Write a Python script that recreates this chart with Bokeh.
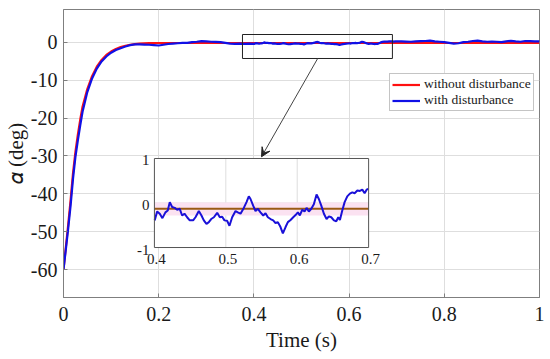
import numpy as np
from bokeh.plotting import figure
from bokeh.models import Range1d, FixedTicker, Legend, LegendItem, Arrow, VeeHead
from bokeh.embed import file_html
from bokeh.resources import INLINE
from bokeh.core.properties import value

# ---------------- data ----------------
x_ticks = [0, 0.2, 0.4, 0.6, 0.8, 1]
x_tick_labels = ["0", "0.2", "0.4", "0.6", "0.8", "1"]
y_ticks = [-60, -50, -40, -30, -20, -10, 0]
y_tick_labels = ["-60", "-50", "-40", "-30", "-20", "-10", "0"]

inset_x_ticks = [0.4, 0.5, 0.6, 0.7]
inset_x_labels = ["0.4", "0.5", "0.6", "0.7"]
inset_y_ticks = [-1, 0, 1]
inset_y_labels = ["-1", "0", "1"]

# without disturbance
t_red = [0, 0.005, 0.01, 0.015, 0.02, 0.025, 0.03, 0.035, 0.04, 0.05, 0.06, 0.07,
         0.08, 0.09, 0.10, 0.11, 0.12, 0.13, 0.14, 0.15, 0.16, 0.18, 0.20, 0.4, 0.7, 1.0]
alpha_red = [-60, -54, -48, -41.5, -34.5, -29, -24.5, -20.5, -17, -12.3, -8.9, -6.4,
             -4.6, -3.3, -2.4, -1.7, -1.2, -0.85, -0.6, -0.42, -0.3, -0.18, -0.13, -0.13, -0.13, -0.13]

# with disturbance
t_blue = [0, 0.005, 0.01, 0.015, 0.02, 0.025, 0.03, 0.035, 0.04, 0.05, 0.06, 0.07,
          0.08, 0.09, 0.10, 0.11, 0.12, 0.13, 0.14, 0.15,
          0.16, 0.17, 0.18, 0.19, 0.20, 0.21, 0.22, 0.23, 0.24, 0.25, 0.26, 0.27, 0.28,
          0.29, 0.30, 0.31, 0.32, 0.33, 0.34, 0.35, 0.36, 0.37, 0.38, 0.39,
          0.4004, 0.4038, 0.4075, 0.4112, 0.4154, 0.4187, 0.4215, 0.4248, 0.4285, 0.4318,
          0.4355, 0.4388, 0.4421, 0.4458, 0.4495, 0.4542, 0.4575, 0.4622, 0.4659, 0.4692,
          0.4729, 0.4762, 0.4795, 0.4833, 0.4879, 0.4916, 0.4949, 0.4981, 0.5019, 0.5051,
          0.5089, 0.5136, 0.5168, 0.5206, 0.5252, 0.5290, 0.5322, 0.5346, 0.5383, 0.5416,
          0.5449, 0.5486, 0.5524, 0.5556, 0.5589, 0.5626, 0.5664, 0.5696, 0.5729, 0.5766,
          0.5799, 0.5837, 0.5869, 0.5907, 0.5944, 0.5977, 0.6009, 0.6037, 0.6071, 0.6103,
          0.6131, 0.6163, 0.6197, 0.6233, 0.6271, 0.6303, 0.6337, 0.6374, 0.6411, 0.6444,
          0.6477, 0.6514, 0.6547, 0.6575, 0.6598, 0.6631, 0.6664, 0.6701, 0.6738, 0.6772,
          0.6804, 0.6842, 0.6878, 0.6912, 0.6944, 0.6972, 0.6996,
          0.71, 0.72, 0.73, 0.74, 0.75, 0.76, 0.77, 0.78, 0.79, 0.80, 0.81, 0.82, 0.83,
          0.84, 0.85, 0.86, 0.87, 0.88, 0.89, 0.90, 0.91, 0.92, 0.93, 0.94, 0.95, 0.96,
          0.97, 0.98, 0.99, 1.0]
alpha_blue = [-60, -54.6, -49, -43, -36, -30.3, -26, -22, -18.3, -13.1, -9.5, -6.9,
              -5.0, -3.7, -2.7, -2.0, -1.5, -1.05, -0.7, -0.5,
              -0.5, -0.55, -0.6, -0.7, -0.8, -0.6, -0.4, -0.3, -0.2, -0.1, -0.1, 0.1, 0.2,
              0.35, 0.3, 0.2, 0.15, 0.1, -0.1, -0.3, -0.35, -0.3, -0.35, -0.3,
              -0.39, -0.19, -0.24, -0.34, -0.21, -0.17, 0.02, -0.09, -0.11, -0.15,
              -0.13, -0.28, -0.24, -0.32, -0.39, -0.39, -0.32, -0.18, -0.28, -0.39,
              -0.47, -0.43, -0.36, -0.32, -0.22, -0.32, -0.31, -0.39, -0.40, -0.51,
              -0.32, -0.18, -0.21, -0.24, -0.11, 0.02, 0.15, 0.09, -0.06, -0.18,
              -0.13, -0.21, -0.28, -0.23, -0.32, -0.36, -0.39, -0.45, -0.43, -0.54,
              -0.68, -0.54, -0.43, -0.38, -0.32, -0.27, -0.21, -0.28, -0.15, -0.19,
              -0.11, -0.19, -0.13, -0.03, 0.19, 0.09, -0.06, -0.24, -0.36, -0.30,
              -0.32, -0.39, -0.41, -0.32, -0.38, -0.17, 0.02, 0.15, 0.21, 0.24,
              0.22, 0.28, 0.27, 0.30, 0.22, 0.30, 0.32,
              0.3, 0.25, 0.2, 0.3, 0.35, 0.4, 0.5, 0.3, 0.2, 0.1, -0.1, -0.3, -0.2,
              0.1, 0.2, 0.4, 0.5, 0.3, 0.2, 0.25, 0.2, 0.1, 0.3, 0.45, 0.3, 0.2,
              0.4, 0.35, 0.3, 0.3]

# ---------------- layout constants ----------------
X_RANGE = (0, 1)
Y_RANGE = (-67.4, 8.72)
INSET_X = (0.4, 0.7)
INSET_Y = (-1, 1)
# inset box position, in main-axis data coordinates
BOX_X = (0.191, 0.641)
BOX_Y = (-54.19, -30.66)
# zoom rectangle (main coords)
ZOOM_X = (0.376, 0.691)
ZOOM_Y = (-4.23, 2.11)

SERIF = "Liberation Serif"
TXT = "#1a1a1a"
GRID = "#dedede"
FRAME = "#7f7f7f"

p = figure(width=550, height=359, output_backend="svg", toolbar_location=None,
           x_range=Range1d(*X_RANGE), y_range=Range1d(*Y_RANGE),
           min_border_left=63, min_border_right=11, min_border_top=9, min_border_bottom=62)
p.background_fill_color = "white"
p.border_fill_color = "white"
p.outline_line_color = FRAME
p.outline_line_width = 1

# axes
p.xaxis.ticker = FixedTicker(ticks=x_ticks)
p.xaxis.major_label_overrides = {t: l for t, l in zip(x_ticks, x_tick_labels)}
p.yaxis.ticker = FixedTicker(ticks=y_ticks)
p.yaxis.major_label_overrides = {t: l for t, l in zip(y_ticks, y_tick_labels)}
for ax in (p.xaxis, p.yaxis):
    ax.axis_line_color = FRAME
    ax.major_tick_in = 4
    ax.major_tick_out = 0
    ax.major_tick_line_color = FRAME
    ax.minor_tick_line_color = None
    ax.major_label_text_font = SERIF
    ax.major_label_text_font_size = "20px"
    ax.major_label_text_color = TXT
    ax.axis_label_text_font = SERIF
    ax.axis_label_text_font_size = "21px"
    ax.axis_label_text_font_style = "normal"
    ax.axis_label_text_color = TXT
p.xaxis.axis_label = "Time (s)"
p.xaxis.major_label_standoff = 9
p.xaxis.axis_label_standoff = 4
p.yaxis.axis_label = "\U0001D6FC (deg)"
p.yaxis.major_label_standoff = 6
p.yaxis.axis_label_standoff = 0

p.xgrid.ticker = FixedTicker(ticks=x_ticks)
p.ygrid.ticker = FixedTicker(ticks=y_ticks)
p.grid.grid_line_color = GRID
p.grid.grid_line_width = 1

# main curves
r_red = p.line(t_red, alpha_red, line_color="#ff1010", line_width=2.2)
r_blue = p.line(t_blue, alpha_blue, line_color="#1010e6", line_width=2.2)

# zoom rectangle
p.quad(left=[ZOOM_X[0]], right=[ZOOM_X[1]], bottom=[ZOOM_Y[0]], top=[ZOOM_Y[1]],
       fill_color=None, line_color="#222222", line_width=1)

# ---------------- inset via extra ranges ----------------
sx = (INSET_X[1] - INSET_X[0]) / (BOX_X[1] - BOX_X[0])
sy = (INSET_Y[1] - INSET_Y[0]) / (BOX_Y[1] - BOX_Y[0])
p.extra_x_ranges = {"ix": Range1d(INSET_X[0] - (BOX_X[0] - X_RANGE[0]) * sx,
                                  INSET_X[1] + (X_RANGE[1] - BOX_X[1]) * sx)}
p.extra_y_ranges = {"iy": Range1d(INSET_Y[0] - (BOX_Y[0] - Y_RANGE[0]) * sy,
                                  INSET_Y[1] + (Y_RANGE[1] - BOX_Y[1]) * sy)}
kw = dict(x_range_name="ix", y_range_name="iy")

p.quad(left=[INSET_X[0]], right=[INSET_X[1]], bottom=[INSET_Y[0]], top=[INSET_Y[1]],
       fill_color="white", line_color=None, **kw)
# inset grid
gx = [t for t in inset_x_ticks if INSET_X[0] < t < INSET_X[1]]
p.segment(x0=gx, x1=gx, y0=[INSET_Y[0]] * len(gx), y1=[INSET_Y[1]] * len(gx),
          line_color=GRID, line_width=1, **kw)
gy = [v for v in inset_y_ticks if INSET_Y[0] < v < INSET_Y[1]]
p.segment(x0=[INSET_X[0]] * len(gy), x1=[INSET_X[1]] * len(gy), y0=gy, y1=gy,
          line_color=GRID, line_width=1, **kw)

t_red_a = np.array(t_red); a_red_a = np.array(alpha_red)
mr = (t_red_a >= INSET_X[0]) & (t_red_a <= INSET_X[1])
p.varea(x=t_red_a[mr], y1=a_red_a[mr] - 0.15, y2=a_red_a[mr] + 0.14,
        fill_color="#fbe2f1", **kw)
p.line(t_red_a[mr], a_red_a[mr], line_color="#9a5a14", line_width=2, **kw)

t_blue_a = np.array(t_blue); a_blue_a = np.array(alpha_blue)
mb = (t_blue_a >= INSET_X[0]) & (t_blue_a <= INSET_X[1])
p.line(t_blue_a[mb], a_blue_a[mb], line_color="#1a10d8", line_width=2, **kw)

p.quad(left=[INSET_X[0]], right=[INSET_X[1]], bottom=[INSET_Y[0]], top=[INSET_Y[1]],
       fill_color=None, line_color="#555555", line_width=1, **kw)

# inset tick labels
p.text(x=[INSET_X[0]] * len(inset_y_ticks), y=inset_y_ticks, text=inset_y_labels,
       text_font=value(SERIF), text_font_size="15px", text_color=TXT,
       text_align="right", text_baseline="middle", x_offset=-5, y_offset=2, **kw)
p.text(x=inset_x_ticks, y=[INSET_Y[0]] * len(inset_x_ticks), text=inset_x_labels,
       text_font=value(SERIF), text_font_size="15px", text_color=TXT,
       text_align="center", text_baseline="top", x_offset=2, y_offset=6, **kw)

# arrow from zoom box to inset
p.add_layout(Arrow(end=VeeHead(size=9, fill_color="#222222", line_color="#222222"),
                   x_start=0.534, y_start=ZOOM_Y[0], x_end=0.416, y_end=-30.2,
                   line_color="#444444", line_width=1))

# legend
legend = Legend(items=[LegendItem(label="without disturbance", renderers=[r_red]),
                       LegendItem(label="with disturbance", renderers=[r_blue])],
                location=(326, 186))
legend.label_text_font = SERIF
legend.label_text_font_size = "13.5px"
legend.label_text_color = TXT
legend.glyph_width = 28
legend.glyph_height = 15
legend.label_height = 15
legend.label_standoff = 4
legend.spacing = 0
legend.padding = 2
legend.margin = 0
legend.border_line_color = "#8a8a8a"
legend.border_line_width = 1
legend.background_fill_color = "white"
legend.background_fill_alpha = 1
p.add_layout(legend)

open("out.html", "w").write(file_html(p, INLINE))
